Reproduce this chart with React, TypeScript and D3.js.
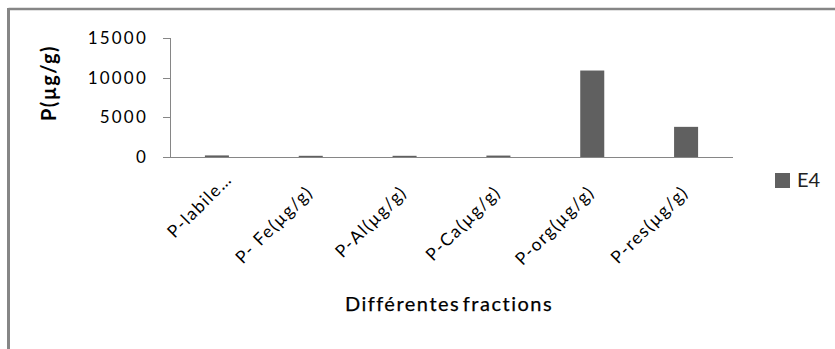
import React from "react";
import * as d3 from "d3";

// Phosphorus fractions for sample E4 (µg/g)
const categories = [
  "P-labile(µg/g)",
  "P- Fe(µg/g)",
  "P-Al(µg/g)",
  "P-Ca(µg/g)",
  "P-org(µg/g)",
  "P-res(µg/g)",
];
const categoryLabels = [
  "P-labile…",
  "P- Fe(µg/g)",
  "P-Al(µg/g)",
  "P-Ca(µg/g)",
  "P-org(µg/g)",
  "P-res(µg/g)",
];
const seriesName = "E4";
const e4Values = [200, 150, 150, 180, 10900, 3800];
const yTicks = [0, 5000, 10000, 15000];

const W = 835;
const H = 349;
const axisY0 = 157;
const plotLeft = 170;
const plotRight = 733;
const plotTop = 38;

const BAR = "#606060";
const AXIS = "#868686";
const FONT = "Lato, 'Open Sans', sans-serif";

export default function App() {
  const x = d3
    .scaleBand<string>()
    .domain(categories)
    .range([plotLeft, plotRight])
    .paddingInner(0.744)
    .paddingOuter(0.372);
  const y = d3.scaleLinear().domain([0, 15000]).range([axisY0, plotTop]);

  return (
    <svg
      width={W}
      height={H}
      style={{ position: "absolute", left: 0, top: 0, background: "#fff" }}
      fontFamily={FONT}
    >
      {/* outer frame (top and left edges visible) */}
      <line x1={8.5} x2={W} y1={9} y2={9} stroke={AXIS} strokeWidth={2.5} />
      <line x1={8.5} x2={8.5} y1={8} y2={H} stroke={AXIS} strokeWidth={3} />

      {/* y axis */}
      <line x1={plotLeft + 0.5} x2={plotLeft + 0.5} y1={y(15000)} y2={axisY0} stroke={AXIS} />
      {yTicks.map((t) => (
        <g key={t}>
          <line
            x1={163}
            x2={plotLeft}
            y1={Math.round(y(t)) + 0.5}
            y2={Math.round(y(t)) + 0.5}
            stroke={AXIS}
          />
          <text
            x={148}
            y={y(t)}
            dy="0.36em"
            textAnchor="end"
            fontSize={17}
            letterSpacing={2.2}
            fill="#000"
          >
            {d3.format("d")(t)}
          </text>
        </g>
      ))}

      {/* bars */}
      {categories.map((c, i) => (
        <rect
          key={c}
          x={x(c)}
          y={y(e4Values[i])}
          width={x.bandwidth()}
          height={axisY0 - y(e4Values[i])}
          fill={BAR}
        />
      ))}

      {/* x axis */}
      <line x1={163} x2={plotRight} y1={axisY0 + 0.5} y2={axisY0 + 0.5} stroke={AXIS} />

      {/* rotated category labels */}
      {categories.map((c, i) => {
        const cx = (x(c) ?? 0) + x.bandwidth() / 2;
        const label = categoryLabels[i];
        const shift = label.endsWith("…") ? 18 : 0;
        const px = cx - 1 + shift * Math.SQRT1_2;
        const py = axisY0 + 32 - shift * Math.SQRT1_2;
        return (
          <text
            key={c}
            transform={`translate(${px},${py}) rotate(-45)`}
            dy="0.35em"
            textAnchor="end"
            fontSize={17.5}
            letterSpacing={1.4}
            fill="#000"
          >
            {label}
          </text>
        );
      })}

      {/* axis titles */}
      <text
        transform={`translate(56,83) rotate(-90)`}
        textAnchor="middle"
        fontSize={20}
        fontWeight="bold"
        letterSpacing={1.4}
        fill="#000"
      >
        P(µg/g)
      </text>
      <text
        x={449}
        y={311}
        textAnchor="middle"
        fontSize={20}
        letterSpacing={1.5}
        wordSpacing={-4}
        fill="#000"
        stroke="#000"
        strokeWidth={0.25}
      >
        Différentes fractions
      </text>

      {/* legend */}
      <rect x={775} y={173} width={15} height={15} fill={BAR} />
      <text x={797} y={187} fontSize={20} fill="#222">
        {seriesName}
      </text>
    </svg>
  );
}
